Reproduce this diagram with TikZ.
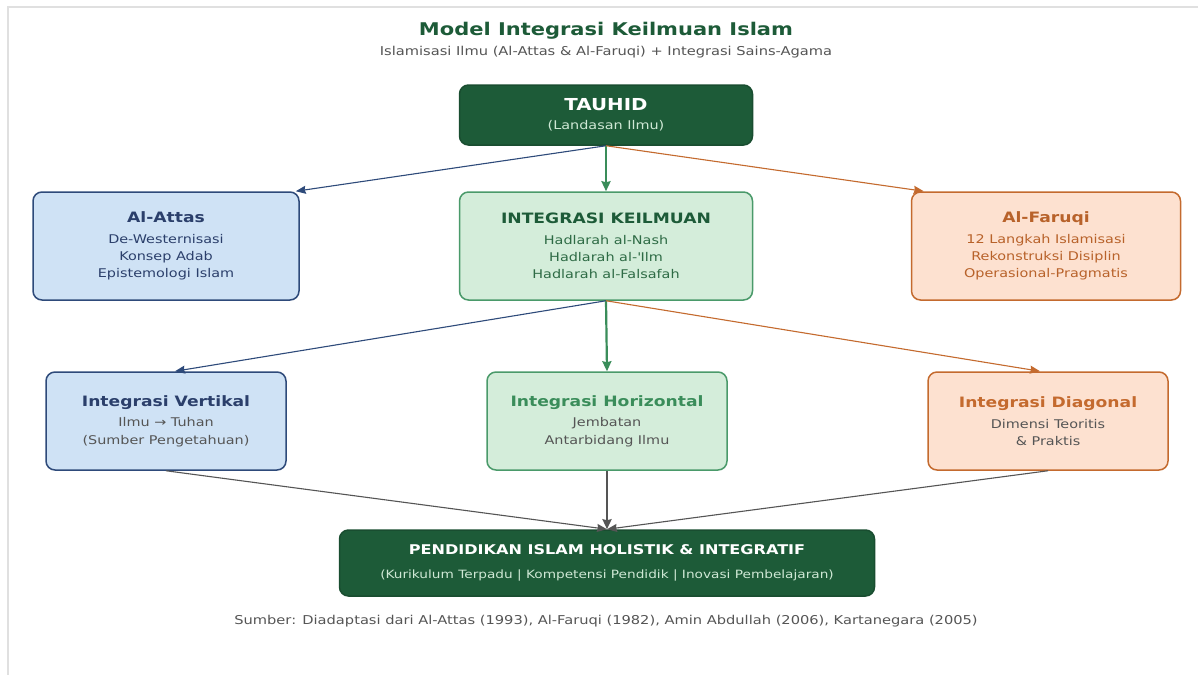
\documentclass[tikz,border=0pt]{standalone}
\usepackage{fontspec}
\setmainfont{DejaVu Sans}[FakeStretch=1.2]
\usetikzlibrary{arrows.meta}
\definecolor{tauhidgreen}{HTML}{1D5B38}
\definecolor{paleleaf}{HTML}{CFE8D5}
\definecolor{attasfill}{HTML}{CFE2F5}
\definecolor{attasline}{HTML}{2E4A7A}
\definecolor{attastext}{HTML}{2B3F6B}
\definecolor{ilmufill}{HTML}{D4EDDA}
\definecolor{ilmuline}{HTML}{4A9A6A}
\definecolor{ilmutext}{HTML}{2E6B45}
\definecolor{faruqifill}{HTML}{FDE1D0}
\definecolor{faruqiline}{HTML}{C46A2E}
\definecolor{faruqitext}{HTML}{B8622A}
\definecolor{horgreen}{HTML}{3A8D5A}
\definecolor{softgray}{HTML}{555555}
\tikzstyle{basebox} = [rectangle, rounded corners=9pt, line width=1.5pt, align=center, inner sep=0pt, font=\fontsize{12}{17.3}\selectfont]
\tikzstyle{darkbox} = [basebox, draw=tauhidgreen!85!black, fill=tauhidgreen, text=white]
\tikzstyle{attasbox} = [basebox, draw=attasline, fill=attasfill, text=attastext]
\tikzstyle{ilmubox} = [basebox, draw=ilmuline, fill=ilmufill, text=ilmutext]
\tikzstyle{faruqibox} = [basebox, draw=faruqiline, fill=faruqifill, text=faruqitext]
\tikzstyle{thinarrow} = [line width=1.1pt, -{Stealth[length=10pt,width=8pt,inset=1pt]}]
\tikzstyle{thickarrow} = [line width=2.2pt, -{Stealth[length=10pt,width=9pt,inset=1pt]}]
\newcommand{\boxhead}[1]{{\fontsize{14.3}{17}\selectfont\bfseries #1}\\[3.5pt]}

\begin{document}
\begin{tikzpicture}[x=1pt,y=-1pt]
\useasboundingbox (0,0) rectangle (1198,675);
\fill[white] (0,0) rectangle (1198,675);
\draw[black!12, line width=1.2pt] (8,675) -- (8,7) -- (1198,7);

\node[text=tauhidgreen, font=\fontsize{17.5}{20}\selectfont\bfseries] (title) at (606,31) {Model Integrasi Keilmuan Islam};
\node[text=softgray, font=\fontsize{12.2}{14}\selectfont] (subtitle) at (606,52) {Islamisasi Ilmu (Al-Attas \& Al-Faruqi) + Integrasi Sains-Agama};

\node[darkbox, minimum width=293pt, minimum height=60pt] (tauhid) at (606,115) {{\fontsize{16.5}{19}\selectfont\bfseries TAUHID}\\[2pt]{\color{paleleaf}(Landasan Ilmu)}};

\node[attasbox, minimum width=266pt, minimum height=108pt] (attas) at (166,246) {\boxhead{Al-Attas}De-Westernisasi\\Konsep Adab\\Epistemologi Islam};
\node[ilmubox, minimum width=293pt, minimum height=108pt] (ilmu) at (606,246) {\boxhead{\color{tauhidgreen}INTEGRASI KEILMUAN}Hadlarah al-Nash\\Hadlarah al-\textquotesingle Ilm\\Hadlarah al-Falsafah};
\node[faruqibox, minimum width=269pt, minimum height=108pt] (faruqi) at (1046,246) {\boxhead{Al-Faruqi}12 Langkah Islamisasi\\Rekonstruksi Disiplin\\Operasional-Pragmatis};

\node[attasbox, minimum width=240pt, minimum height=98pt] (vertikal) at (166,421) {\boxhead{Integrasi Vertikal}{\color{softgray}Ilmu → Tuhan}\\{\color{softgray}(Sumber Pengetahuan)}};
\node[ilmubox, minimum width=240pt, minimum height=98pt] (horizontal) at (607,421) {\boxhead{\color{horgreen}Integrasi Horizontal}{\color{softgray}Jembatan}\\{\color{softgray}Antarbidang Ilmu}};
\node[faruqibox, minimum width=240pt, minimum height=98pt] (diagonal) at (1048,421) {\boxhead{\color{faruqiline}Integrasi Diagonal}{\color{softgray}Dimensi Teoritis}\\{\color{softgray}\& Praktis}};

\node[darkbox, minimum width=535pt, minimum height=66pt] (holistik) at (607,563) {{\fontsize{13.4}{16}\selectfont\bfseries PENDIDIKAN ISLAM HOLISTIK \& INTEGRATIF}\\[7pt]{\color{paleleaf}\fontsize{11.4}{14}\selectfont(Kurikulum Terpadu | Kompetensi Pendidik | Inovasi Pembelajaran)}};

\node[text=softgray, font=\fontsize{12.2}{14}\selectfont] (sumber) at (606,621) {Sumber: Diadaptasi dari Al-Attas (1993), Al-Faruqi (1982), Amin Abdullah (2006), Kartanegara (2005)};

\draw[thinarrow, attasline] (tauhid.south) -- ([xshift=-4pt]attas.north east);
\draw[thickarrow, horgreen] (tauhid.south) -- (ilmu.north);
\draw[thinarrow, faruqiline] (tauhid.south) -- ([xshift=13pt]faruqi.north west);

\draw[thinarrow, attasline] (ilmu.south) -- ([xshift=9pt]vertikal.north);
\draw[thickarrow, horgreen] (ilmu.south) -- (horizontal.north);
\draw[thinarrow, faruqiline] (ilmu.south) -- ([xshift=-8pt]diagonal.north);

\draw[thinarrow, softgray] (vertikal.south) -- (holistik.north);
\draw[thickarrow, softgray] (horizontal.south) -- (holistik.north);
\draw[thinarrow, softgray] (diagonal.south) -- (holistik.north);
\end{tikzpicture}
\end{document}
